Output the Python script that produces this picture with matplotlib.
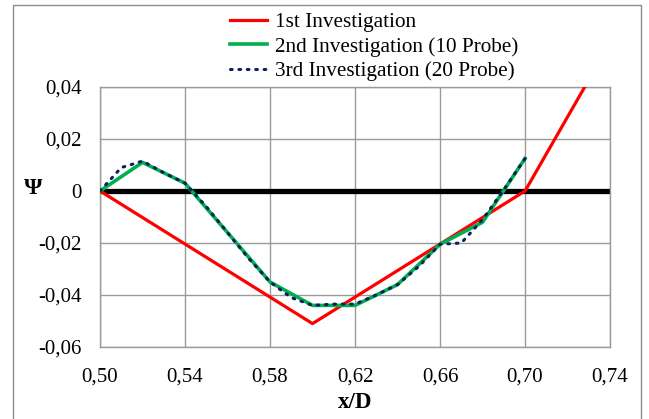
import matplotlib
matplotlib.use("Agg")
import matplotlib.pyplot as plt
from matplotlib.patches import Rectangle
from matplotlib.ticker import FuncFormatter

plt.rcParams['font.family'] = ['Liberation Serif', 'DejaVu Serif']

# 1st Investigation
x1 = [0.50, 0.60, 0.70, 0.74]
y1 = [0.0, -0.051, 0.0, 0.057]

# 2nd Investigation (10 Probe)
x2 = [0.50, 0.52, 0.54, 0.56, 0.58, 0.60, 0.62, 0.64, 0.66, 0.68, 0.70]
y2 = [0.0, 0.011, 0.003, -0.016, -0.035, -0.044, -0.044, -0.036, -0.0205, -0.012, 0.0125]

# 3rd Investigation (20 Probe)
x3 = [0.50, 0.51, 0.52, 0.53, 0.54, 0.55, 0.56, 0.57, 0.58, 0.59, 0.60,
      0.61, 0.62, 0.63, 0.64, 0.65, 0.66, 0.67, 0.68, 0.69, 0.70]
y3 = [0.0, 0.009, 0.0115, 0.007, 0.003, -0.006, -0.016, -0.026, -0.035, -0.041, -0.044,
      -0.0435, -0.0435, -0.040, -0.036, -0.029, -0.0205, -0.020, -0.011, 0.0005, 0.0125]

xticks = [0.50, 0.54, 0.58, 0.62, 0.66, 0.70, 0.74]
yticks = [-0.06, -0.04, -0.02, 0.0, 0.02, 0.04]

fig = plt.figure(figsize=(6.49, 4.19), dpi=100)
ax = fig.add_axes([0.1541, 0.1718, 0.940 - 0.1541, 0.7924 - 0.1718])

fig.patches.append(Rectangle((13/649, -0.05), (641-13)/649, 1 - 5/419 + 0.05,
                             transform=fig.transFigure, fill=False,
                             edgecolor='#8c8c8c', linewidth=1.0, zorder=0))

ax.axhline(0, color='black', linewidth=3.8, zorder=2)
l1, = ax.plot(x1, y1, color='#ff0000', linewidth=2.3, zorder=3, label='1st Investigation')
l2, = ax.plot(x2, y2, color='#00b050', linewidth=2.6, zorder=4, label='2nd Investigation (10 Probe)')
l3, = ax.plot(x3, y3, color='#0d1f5c', linewidth=2.2, linestyle=(0, (0.55, 2.2)),
              dash_capstyle='round', zorder=5, label='3rd Investigation (20 Probe)')

ax.set_xlim(0.50, 0.74)
ax.set_ylim(-0.06, 0.04)
ax.set_xticks(xticks)
ax.set_yticks(yticks)
ax.xaxis.set_major_formatter(FuncFormatter(lambda v, p: f"{v:.2f}".replace('.', ',')))
def yfmt(v, p):
    if abs(v) < 1e-9:
        return "0"
    return f"{v:.2f}".replace('.', ',')
ax.yaxis.set_major_formatter(FuncFormatter(yfmt))
ax.tick_params(axis='both', length=0, labelsize=15)
ax.tick_params(axis='x', pad=15)
ax.tick_params(axis='y', pad=13)
ax.grid(True, color='#9a9a9a', linewidth=1.0)
ax.set_axisbelow(True)
for s in ax.spines.values():
    s.set_color('#9a9a9a')
    s.set_linewidth(1.0)

ax.set_xlabel('x/D', fontsize=16.5, fontweight='bold', labelpad=4)
fig.text(33/649, 1 - 189/419, 'Ψ', fontsize=17, fontweight='bold', ha='center', va='center')

fig.legend(handles=[l1, l2, l3], loc='upper left', bbox_to_anchor=(226/649, 1 - 8/419),
           frameon=False, fontsize=15.3, handlelength=1.75, handletextpad=0.35,
           labelspacing=0.22, borderaxespad=0, borderpad=0.2)

fig.savefig('out.png', dpi=100)
